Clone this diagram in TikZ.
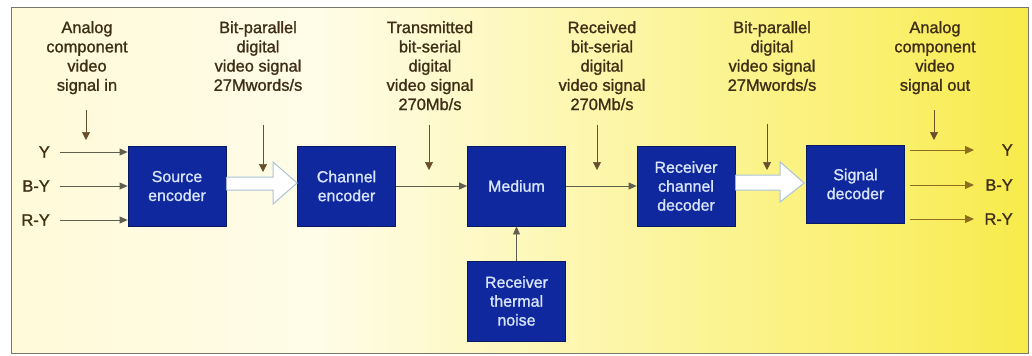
\documentclass[tikz,border=0pt]{standalone}
\usepackage{fontspec}
\setmainfont{Liberation Sans}
\newfontfamily\medfont[FakeBold=1.2]{Liberation Sans}
\usetikzlibrary{arrows.meta,calc}
\definecolor{c1}{RGB}{255,246,190}
\definecolor{c2}{RGB}{255,252,232}
\definecolor{c3}{RGB}{250,240,110}
\definecolor{c4}{RGB}{245,229,40}
\definecolor{boxblue}{RGB}{16,40,158}
\definecolor{boxedge}{RGB}{10,25,100}
\definecolor{boxtext}{RGB}{215,228,252}
\definecolor{captxt}{RGB}{62,46,22}
\definecolor{insig}{RGB}{95,95,80}
\definecolor{outsig}{RGB}{140,110,30}
\definecolor{dsigc}{RGB}{105,80,45}
\definecolor{hollow}{RGB}{170,195,215}
\definecolor{framec}{RGB}{120,120,110}
\pgfdeclarehorizontalshading{bgshade}{100bp}{color(0bp)=(c1); color(40bp)=(c2); color(68bp)=(c3); color(82bp)=(c4); color(100bp)=(c4)}
\begin{document}
\begin{tikzpicture}[x=1bp,y=-1bp,
  blk/.style={minimum width=98bp,minimum height=80bp,fill=boxblue,draw=boxedge,line width=0.8bp,
    text=boxtext,align=center,inner sep=0pt,font=\medfont\fontsize{16}{19}\selectfont},
  captn/.style={align=center,text=captxt,anchor=north,inner sep=0pt,font=\medfont\fontsize{16.5}{19.3}\selectfont},
  lbl/.style={text=captxt,inner sep=0pt,font=\medfont\fontsize{16.5}{19}\selectfont},
  sig/.style={draw=insig,line width=0.8bp,-{Triangle[length=8bp,width=7bp]}},
  osig/.style={draw=outsig,line width=1bp,-{Triangle[length=9bp,width=8bp]}},
  dsig/.style={draw=dsigc,line width=0.7bp,-{Triangle[length=8bp,width=8bp]}},
  hol/.style={draw=hollow,fill=white,line width=1bp,line join=miter}]
\useasboundingbox (0,0) rectangle (1032,355);
\fill[white] (0,0) rectangle (1032,355);
\shade[shading=bgshade] (11,7) rectangle (1028,353);
\draw[framec,line width=1bp] (11,7) rectangle (1028,353);

% blocks
\node[blk] (src) at (177,186) {Source\\encoder};
\node[blk] (ch) at (346.5,186) {Channel\\encoder};
\node[blk] (med) at (516.5,186) {Medium};
\node[blk] (noise) at (516.5,301) {Receiver\\thermal\\noise};
\node[blk] (rcd) at (686,186) {Receiver\\channel\\decoder};
\node[blk,minimum height=78bp] (sig) at (855.5,184) {Signal\\decoder};

% captions
\node[captn] (t1) at (87,21) {Analog\\component\\video\\signal in};
\node[captn] (t2) at (258,21) {Bit-parallel\\digital\\video signal\\27Mwords/s};
\node[captn] (t3) at (430,21) {Transmitted\\bit-serial\\digital\\video signal\\270Mb/s};
\node[captn] (t4) at (602,21) {Received\\bit-serial\\digital\\video signal\\270Mb/s};
\node[captn] (t5) at (772,21) {Bit-parallel\\digital\\video signal\\27Mwords/s};
\node[captn] (t6) at (935,21) {Analog\\component\\video\\signal out};

% caption pointers
\coordinate (p1) at (86,110);
\coordinate (p2) at (263,125);
\coordinate (p3) at (429,125);
\coordinate (p4) at (597,125);
\coordinate (p5) at (767,124);
\coordinate (p6) at (934,110);
\draw[dsig] (p1) -- ++(0,30);
\draw[dsig] (p3) -- ++(0,45);
\draw[dsig] (p4) -- ++(0,45);
\draw[dsig] (p6) -- ++(0,30);

% inputs
\node[lbl,anchor=east] (iy) at (50,152) {Y};
\node[lbl,anchor=east] (iby) at (50,186) {B-Y};
\node[lbl,anchor=east] (iry) at (50,220) {R-Y};
\draw[sig,shorten <=10bp] (iy.east) -- (iy.east -| src.west);
\draw[sig,shorten <=10bp] (iby.east) -- (iby.east -| src.west);
\draw[sig,shorten <=10bp] (iry.east) -- (iry.east -| src.west);

% outputs
\node[lbl,anchor=east] (oy) at (1013,150) {Y};
\node[lbl,anchor=east] (oby) at (1013,185) {B-Y};
\node[lbl,anchor=east] (ory) at (1013,219) {R-Y};
\coordinate (oend) at (974,0);
\draw[osig,shorten <=5bp] (sig.east |- oy) -- (oend |- oy);
\draw[osig,shorten <=5bp] (sig.east |- oby) -- (oend |- oby);
\draw[osig,shorten <=5bp] (sig.east |- ory) -- (oend |- ory);

% serial links
\draw[sig] (ch.east) -- (med.west);
\draw[sig] (med.east) -- (rcd.west);
\draw[sig] (noise.north) -- (med.south);

% hollow parallel arrows
\draw[hol] ($(src.east)+(0,-9)$) -- ($(ch.west)+(-24,-9)$) -- ($(ch.west)+(-24,-24)$)
  -- ($(ch.west)+(0,-3)$) -- ($(ch.west)+(-24,18)$) -- ($(ch.west)+(-24,4)$) -- ($(src.east)+(0,4)$);
\draw[hol] ($(rcd.east)+(0,-11)$) -- ($(sig.west)+(-26,-9)$) -- ($(sig.west)+(-26,-22)$)
  -- ($(sig.west)+(-2,-1)$) -- ($(sig.west)+(-26,18)$) -- ($(sig.west)+(-26,6)$) -- ($(rcd.east)+(0,4)$);
\draw[dsig] (p2) -- ++(0,47);
\draw[dsig] (p5) -- ++(0,46);
\end{tikzpicture}
\end{document}
